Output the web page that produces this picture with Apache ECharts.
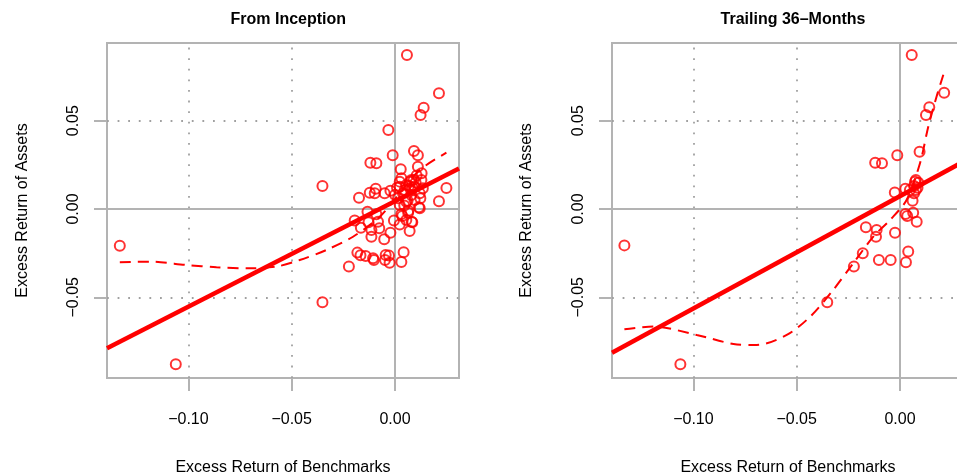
<!DOCTYPE html>
<html>
<head>
<meta charset="utf-8">
<script src="https://cdn.jsdelivr.net/npm/echarts@6/dist/echarts.min.js"></script>
<style>html,body{margin:0;padding:0;background:#fff}#c{width:957px;height:475px}</style>
</head>
<body>
<div id="c"></div>
<script>
// ---- data ----
const panelTitles = ['From Inception', 'Trailing 36–Months'];
const xAxisTitle = 'Excess Return of Benchmarks';
const yAxisTitle = 'Excess Return of Assets';
const xTickValues = [-0.10, -0.05, 0.00];
const yTickValues = [-0.05, 0.00, 0.05];
const xDottedGrid = [-0.10, -0.05];
const yDottedGrid = [-0.05, 0.05];
const zeroLines = [0];
const xLimits = [-0.1394, 0.0310];
const yLimits = [-0.0957, 0.0940];

// From inception: benchmark excess return (x) and asset excess return (y)
const inceptionBench = [
 -0.1332,-0.1061,-0.0351,-0.0351,0.0058,0.0213,0.0139,0.0124,-0.0032,-0.0011,
 -0.0119,-0.0090,0.0092,0.0111,0.0249,0.0213,-0.0174,-0.0122,-0.0098,-0.0093,
 -0.0050,-0.0022,-0.0195,-0.0165,-0.0133,-0.0128,-0.0082,-0.0076,-0.0114,-0.0114,
 -0.0090,-0.0052,-0.0022,-0.0182,-0.0167,-0.0142,-0.0223,-0.0102,-0.0048,-0.0026,
 -0.0029,0.0042,0.0031,0.0071,0.0084,0.0023,-0.0005,0.0055,0.0031,0.0116,
 0.0123,0.0090,0.0111,0.0129,0.0028,0.0023,0.0128,0.0031,0.0079,0.0023,
 0.0055,0.0095,0.0135,0.0039,0.0079,0.0120,0.0015,0.0055,0.0095,0.0023,
 0.0120,0.0068,0.0077,0.0048,0.0061,0.0035,0.0064,0.0081,0.0073,0.0085,
 -0.0106,-0.0045,0.0010,0.0045,0.0100,0.0065,0.0000,0.0105
];
const inceptionAsset = [
 -0.0208,-0.0879,0.0130,-0.0528,0.0872,0.0656,0.0573,0.0532,0.0447,0.0305,
 0.0262,0.0259,0.0328,0.0304,0.0119,0.0044,0.0064,0.0092,0.0089,0.0115,
 0.0089,0.0104,-0.0065,-0.0106,-0.0015,-0.0075,-0.0072,-0.0109,-0.0157,-0.0119,
 -0.0030,-0.0171,-0.0134,-0.0247,-0.0262,-0.0266,-0.0326,-0.0289,-0.0289,-0.0305,
 -0.0264,-0.0245,-0.0300,-0.0125,-0.0075,-0.0088,-0.0065,-0.0062,-0.0028,0.0010,
 0.0061,0.0164,0.0239,0.0202,0.0225,0.0155,0.0164,0.0174,0.0164,0.0126,
 0.0136,0.0126,0.0117,0.0089,0.0079,0.0089,0.0061,0.0041,0.0051,0.0023,
 0.0004,0.0130,0.0108,0.0108,0.0047,-0.0040,-0.0021,-0.0072,0.0155,0.0120,
 -0.0279,-0.0260,0.0120,0.0020,0.0150,-0.0010,0.0080,0.0190
];
// Trailing 36 months
const trailingBench = [
 0.0057,0.0214,0.0142,0.0126,0.0095,-0.0013,-0.0120,-0.0087,-0.0025,0.0026,
 0.0077,0.0089,0.0068,0.0077,0.0068,0.0048,0.0061,0.0027,0.0035,0.0064,
 0.0081,-0.0165,-0.0113,-0.0116,-0.0024,-0.0180,-0.0223,-0.0102,-0.0045,0.0040,
 0.0029,-0.0352,-0.1334,-0.1063,0.0073,0.0085
];
const trailingAsset = [
 0.0872,0.0658,0.0576,0.0532,0.0324,0.0304,0.0262,0.0259,0.0094,0.0115,
 0.0164,0.0149,0.0130,0.0108,0.0089,0.0108,0.0047,-0.0028,-0.0040,-0.0021,
 -0.0072,-0.0104,-0.0119,-0.0157,-0.0134,-0.0251,-0.0326,-0.0289,-0.0289,-0.0241,
 -0.0302,-0.0528,-0.0206,-0.0879,0.0155,0.0120
];
// Regression (solid) lines: values at the x limits
const inceptionFitX = [-0.1394, 0.0310];
const inceptionFitY = [-0.0788, 0.0230];
const trailingFitX = [-0.1394, 0.0310];
const trailingFitY = [-0.0814, 0.0270];
// Loess (dashed) curves
const inceptionLoessX = [-0.1332,-0.1187,-0.1009,-0.0864,-0.0703,-0.0574,-0.0461,-0.0332,-0.0203,-0.0074,0.0023,0.0120,0.0249];
const inceptionLoessY = [-0.0302,-0.0298,-0.0317,-0.0330,-0.0336,-0.0326,-0.0289,-0.0232,-0.0157,-0.0044,0.0089,0.0221,0.0319];
const trailingLoessX = [-0.1334,-0.1194,-0.0984,-0.0806,-0.0693,-0.0548,-0.0435,-0.0323,-0.0226,-0.0129,-0.0048,0.0032,0.0097,0.0137,0.0177,0.0210];
const trailingLoessY = [-0.0681,-0.0666,-0.0713,-0.0764,-0.0770,-0.0713,-0.0610,-0.0458,-0.0307,-0.0157,-0.0062,0.0051,0.0259,0.0466,0.0636,0.0760];

// ---- chart ----
const RED = '#ff0000', GRAY = '#b3b3b3', FONT = 'Liberation Sans';
const zip = (a, b) => a.map((v, i) => [v, b[i]]);
const fmt = v => (v < 0 ? '\u2212' : '') + Math.abs(v).toFixed(2);

const panels = [
  {left: 107, center: 283.3, yNameGap: 76, bench: inceptionBench, asset: inceptionAsset,
   fitX: inceptionFitX, fitY: inceptionFitY, loX: inceptionLoessX, loY: inceptionLoessY},
  {left: 612, center: 788, yNameGap: 77, bench: trailingBench, asset: trailingAsset,
   fitX: trailingFitX, fitY: trailingFitY, loX: trailingLoessX, loY: trailingLoessY}
];

const option = {
  animation: false,
  backgroundColor: '#fff',
  title: panels.map((p, i) => ({
    text: panelTitles[i], left: p.center, top: 7, textAlign: 'center',
    textStyle: {fontFamily: FONT, fontSize: 16, fontWeight: 'bold', color: '#000'}
  })),
  grid: panels.map(p => ({left: p.left, top: 43, width: 352, height: 335,
    containLabel: false, outerBoundsMode: 'none',
    show: true, borderColor: GRAY, borderWidth: 2, backgroundColor: 'transparent'})),
  xAxis: panels.map((p, i) => ({
    type: 'value', gridIndex: i, min: xLimits[0], max: xLimits[1], position: 'bottom',
    name: xAxisTitle, nameLocation: 'middle', nameGap: 82,
    nameTextStyle: {fontFamily: FONT, fontSize: 16, color: '#000'},
    axisLine: {show: true, onZero: false, lineStyle: {color: GRAY, width: 2}},
    axisTick: {show: true, inside: false, length: 13, customValues: xTickValues,
      lineStyle: {color: GRAY, width: 2}},
    axisLabel: {show: true, margin: 34, customValues: xTickValues, formatter: fmt,
      fontFamily: FONT, fontSize: 16, color: '#000'},
    splitLine: {show: false}
  })),
  yAxis: panels.map((p, i) => ({
    type: 'value', gridIndex: i, min: yLimits[0], max: yLimits[1], position: 'left',
    name: yAxisTitle, nameLocation: 'middle', nameGap: p.yNameGap,
    nameTextStyle: {fontFamily: FONT, fontSize: 16, color: '#000'},
    axisLine: {show: true, onZero: false, lineStyle: {color: GRAY, width: 2}},
    axisTick: {show: true, inside: false, length: 13, customValues: yTickValues,
      lineStyle: {color: GRAY, width: 2}},
    axisLabel: {show: true, margin: 25, rotate: 90, customValues: yTickValues, formatter: fmt,
      fontFamily: FONT, fontSize: 16, color: '#000'},
    splitLine: {show: false}
  })),
  series: []
};

panels.forEach((p, i) => {
  // grid reference lines
  option.series.push({
    type: 'line', xAxisIndex: i, yAxisIndex: i, data: [], silent: true, z: 1,
    markLine: {
      silent: true, symbol: ['none', 'none'], label: {show: false}, animation: false, z: 1,
      data: [
        ...xDottedGrid.map(v => ({xAxis: v, lineStyle: {color: '#a0a0a0', width: 1.8, type: [1.8, 8.8]}})),
        ...yDottedGrid.map(v => ({yAxis: v, lineStyle: {color: '#a0a0a0', width: 1.8, type: [1.8, 8.8]}})),
        ...zeroLines.map(v => ({xAxis: v, lineStyle: {color: GRAY, width: 2, type: 'solid'}})),
        ...zeroLines.map(v => ({yAxis: v, lineStyle: {color: GRAY, width: 2, type: 'solid'}}))
      ]
    }
  });
  option.series.push({
    type: 'scatter', xAxisIndex: i, yAxisIndex: i, z: 3,
    data: zip(p.bench, p.asset), symbol: 'circle', symbolSize: 10,
    itemStyle: {color: 'rgba(255,255,255,0)', borderColor: RED, borderWidth: 2},
    emphasis: {disabled: true}
  });
  option.series.push({
    type: 'line', xAxisIndex: i, yAxisIndex: i, z: 4,
    data: zip(p.fitX, p.fitY), showSymbol: false, symbol: 'none',
    lineStyle: {color: RED, width: 4.5}
  });
  option.series.push({
    type: 'line', xAxisIndex: i, yAxisIndex: i, z: 4, smooth: 0.3,
    data: zip(p.loX, p.loY), showSymbol: false, symbol: 'none',
    lineStyle: {color: RED, width: 2, type: [11, 7]}
  });
});

const chart = echarts.init(document.getElementById('c'), null, {renderer: 'canvas'});
chart.setOption(option);
</script>
</body>
</html>
